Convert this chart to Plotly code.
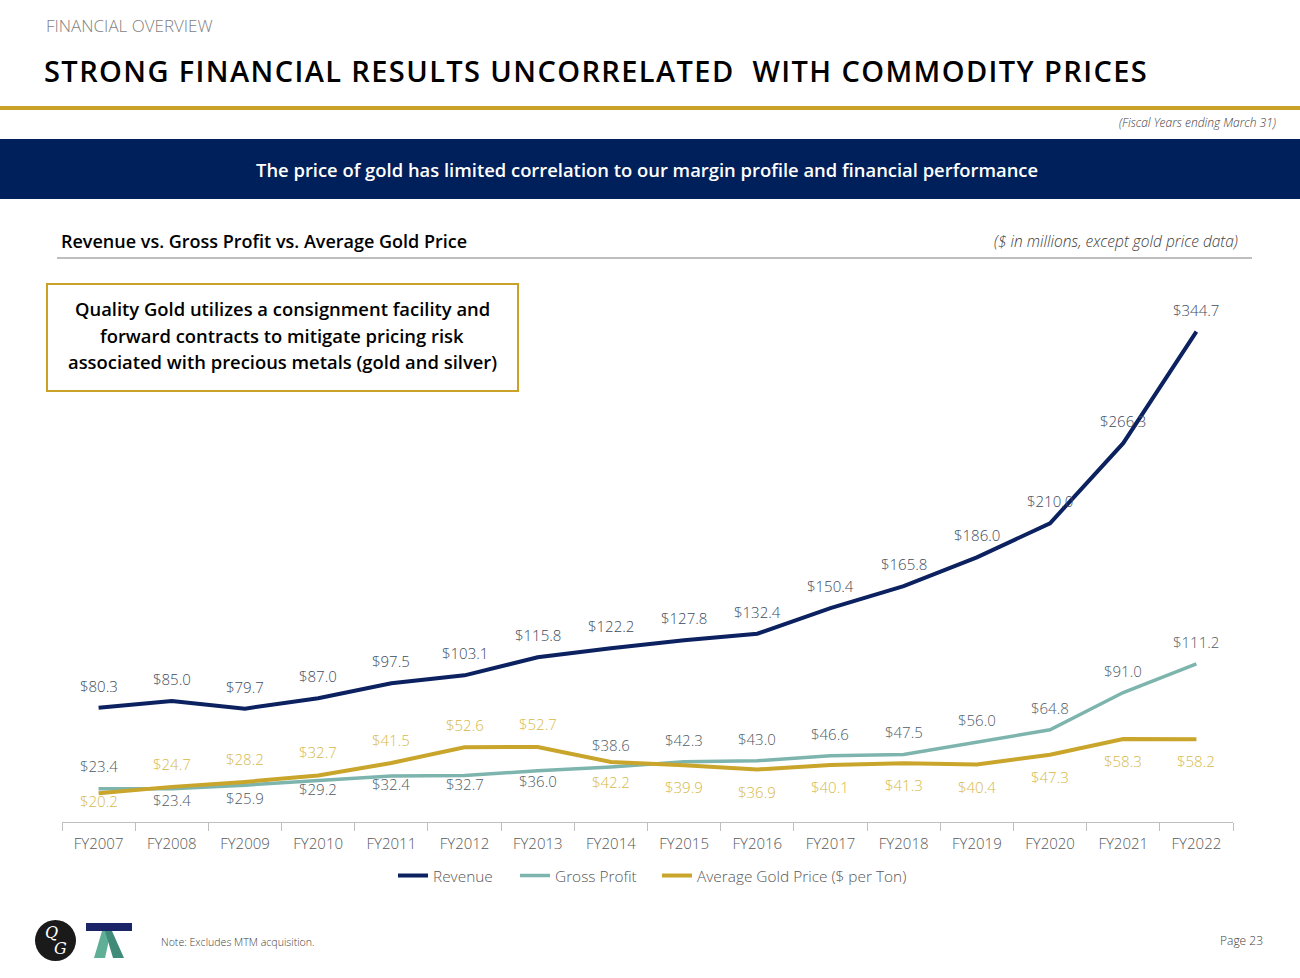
import plotly.graph_objects as go

# ---------------- data ----------------
years = ["FY2007", "FY2008", "FY2009", "FY2010", "FY2011", "FY2012", "FY2013", "FY2014",
         "FY2015", "FY2016", "FY2017", "FY2018", "FY2019", "FY2020", "FY2021", "FY2022"]
revenue = [80.3, 85.0, 79.7, 87.0, 97.5, 103.1, 115.8, 122.2,
           127.8, 132.4, 150.4, 165.8, 186.0, 210.0, 266.3, 344.7]
gross_profit = [23.4, 23.4, 25.9, 29.2, 32.4, 32.7, 36.0, 38.6,
                42.3, 43.0, 46.6, 47.5, 56.0, 64.8, 91.0, 111.2]
gold_price = [20.2, 24.7, 28.2, 32.7, 41.5, 52.6, 52.7, 42.2,
              39.9, 36.9, 40.1, 41.3, 40.4, 47.3, 58.3, 58.2]

box_lines = ["Quality Gold utilizes a consignment facility and",
             "forward contracts to mitigate pricing risk",
             "associated with precious metals (gold and silver)"]

# label placement (style, not data): vertical pixel shift of each label
rev_shift = [22] * 16
gp_shift = [23, -11, -13, -9, -8, -9, -10, 22, 22, 22, 22, 22, 22, 22, 22, 22]
gold_shift = [-8, 23, 23, 23, 23, 22, 23, -20, -22, -22, -22, -22, -22, -22, -22, -22]

# ---------------- styles ----------------
W, H = 1300, 978
NAVY = "#0b2160"
BANNER = "#00205b"
TEAL = "#7db5ae"
GOLD = "#c9a52b"
RULE_GOLD = "#c9a227"
REV_LBL = "#3e4a5c"
GP_LBL = "#4f5b66"
GOLD_LBL = "#d6b94a"
FONT = "Open Sans"


def X(px):
    return px / W


def Y(py):
    return 1 - py / H


fig = go.Figure()

fig.add_trace(go.Scatter(x=years, y=revenue, mode="lines", name="Revenue", legend="legend",
                         line=dict(color=NAVY, width=4), hoverinfo="skip"))
fig.add_trace(go.Scatter(x=years, y=gross_profit, mode="lines", name="Gross Profit", legend="legend2",
                         line=dict(color=TEAL, width=3.5), hoverinfo="skip"))
fig.add_trace(go.Scatter(x=years, y=gold_price, mode="lines", name="Average Gold Price ($ per Ton)",
                         legend="legend3", line=dict(color=GOLD, width=4), hoverinfo="skip"))

annotations = []
label_font = dict(family=FONT, size=15, weight=300)
for series, shifts, col in ((revenue, rev_shift, REV_LBL),
                            (gross_profit, gp_shift, GP_LBL),
                            (gold_price, gold_shift, GOLD_LBL)):
    for yr, v, s in zip(years, series, shifts):
        annotations.append(dict(x=yr, y=v, xref="x", yref="y", text=f"${v:.1f}",
                                showarrow=False, yshift=s, xanchor="center", yanchor="middle",
                                font=dict(label_font, color=col)))

# ---------------- slide text ----------------
annotations += [
    dict(x=X(44), y=Y(25), xref="paper", yref="paper", text="FINANCIAL OVERVIEW",
         showarrow=False, xanchor="left", yanchor="middle",
         font=dict(family=FONT, size=17, color="#7f7f7f", weight=300)),
    # x compensates for the letter-spacing applied after render (text grows around its centre)
    dict(x=X(84), y=Y(71), xref="paper", yref="paper",
         text="STRONG FINANCIAL RESULTS UNCORRELATED&nbsp; WITH COMMODITY PRICES",
         showarrow=False, xanchor="left", yanchor="middle", name="title",
         font=dict(family=FONT, size=29, color="#000000", weight=600)),
    dict(x=X(1278), y=Y(123), xref="paper", yref="paper", text="<i>(Fiscal Years ending March 31)</i>",
         showarrow=False, xanchor="right", yanchor="middle",
         font=dict(family=FONT, size=12, color="#404040", weight=300)),
    dict(x=X(647), y=Y(169), xref="paper", yref="paper",
         text="The price of gold has limited correlation to our margin profile and financial performance",
         showarrow=False, xanchor="center", yanchor="middle",
         font=dict(family=FONT, size=18.4, color="#ffffff", weight=600)),
    dict(x=X(59), y=Y(241), xref="paper", yref="paper",
         text="Revenue vs. Gross Profit vs. Average Gold Price",
         showarrow=False, xanchor="left", yanchor="middle",
         font=dict(family=FONT, size=18, color="#000000", weight=600)),
    dict(x=X(1240), y=Y(241), xref="paper", yref="paper",
         text="<i>($ in millions, except gold price data)</i>",
         showarrow=False, xanchor="right", yanchor="middle",
         font=dict(family=FONT, size=15.5, color="#404040", weight=300)),
    dict(x=X(159), y=Y(942), xref="paper", yref="paper", text="Note: Excludes MTM acquisition.",
         showarrow=False, xanchor="left", yanchor="middle",
         font=dict(family=FONT, size=10.6, color="#404040", weight=300)),
    dict(x=X(1265), y=Y(940), xref="paper", yref="paper", text="Page 23",
         showarrow=False, xanchor="right", yanchor="middle",
         font=dict(family=FONT, size=12, color="#404040", weight=300)),
    # QG monogram
    dict(x=X(51), y=Y(932), xref="paper", yref="paper", text="<i>Q</i>",
         showarrow=False, xanchor="center", yanchor="middle",
         font=dict(family="DejaVu Serif", size=16, color="#ffffff")),
    dict(x=X(60), y=Y(948), xref="paper", yref="paper", text="<i>G</i>",
         showarrow=False, xanchor="center", yanchor="middle",
         font=dict(family="DejaVu Serif", size=16, color="#ffffff")),
]
for i, line in enumerate(box_lines):
    annotations.append(dict(x=X(282), y=Y(309 + 26 * i), xref="paper", yref="paper", text=line,
                            showarrow=False, xanchor="center", yanchor="middle",
                            font=dict(family=FONT, size=18.4, color="#000000", weight=600)))

shapes = [
    dict(type="rect", xref="paper", yref="paper", x0=X(0), x1=X(1300), y0=Y(106), y1=Y(110),
         fillcolor=RULE_GOLD, line=dict(width=0), layer="below"),
    dict(type="rect", xref="paper", yref="paper", x0=X(0), x1=X(1300), y0=Y(139), y1=Y(199),
         fillcolor=BANNER, line=dict(width=0), layer="below"),
    dict(type="line", xref="paper", yref="paper", x0=X(57), x1=X(1252), y0=Y(258), y1=Y(258),
         line=dict(color="#7f7f7f", width=1)),
    dict(type="rect", xref="paper", yref="paper", x0=X(47), x1=X(518), y0=Y(284), y1=Y(391),
         fillcolor="rgba(255,255,255,0)", line=dict(color=RULE_GOLD, width=2)),
    dict(type="circle", xref="paper", yref="paper", x0=X(35), x1=X(76), y0=Y(920), y1=Y(961),
         fillcolor="#1a1a1a", line=dict(width=0), layer="below"),
    dict(type="rect", xref="paper", yref="paper", x0=X(86), x1=X(132), y0=Y(923), y1=Y(931),
         fillcolor="#1b2466", line=dict(width=0)),
    dict(type="path", xref="paper", yref="paper",
         path=f"M {X(102)} {Y(931)} L {X(111)} {Y(931)} L {X(105)} {Y(958)} L {X(94)} {Y(958)} Z",
         fillcolor="#5fae96", line=dict(width=0)),
    dict(type="path", xref="paper", yref="paper",
         path=f"M {X(105)} {Y(931)} L {X(112)} {Y(931)} L {X(124)} {Y(958)} L {X(113)} {Y(958)} Z",
         fillcolor="#3f8a78", line=dict(width=0)),
]

legend_common = dict(orientation="h", xanchor="left", yanchor="middle", y=Y(876),
                     font=dict(family=FONT, size=15.4, color="#595959", weight=300),
                     bgcolor="rgba(0,0,0,0)", itemwidth=30)

fig.update_layout(
    width=W, height=H, autosize=False,
    margin=dict(l=0, r=0, t=0, b=0),
    paper_bgcolor="#ffffff", plot_bgcolor="rgba(0,0,0,0)",
    font=dict(family=FONT, color="#595959"),
    showlegend=True,
    legend=dict(legend_common, x=X(393)),
    legend2=dict(legend_common, x=X(515)),
    legend3=dict(legend_common, x=X(657)),
    xaxis=dict(domain=[X(62), X(1233)], type="category", range=[-0.5, 15.5],
               showgrid=False, zeroline=False,
               showline=True, linecolor="#bfbfbf", linewidth=1,
               ticks="outside", tickson="boundaries", ticklen=8, tickcolor="#bfbfbf",
               ticklabelstandoff=8,
               tickfont=dict(family=FONT, size=15, color="#595959", weight=300),
               automargin=False, fixedrange=True),
    yaxis=dict(domain=[Y(822), Y(290)], range=[0, 374], visible=False, showgrid=False,
               zeroline=False, fixedrange=True),
    annotations=annotations,
    shapes=shapes,
)

post = """
function qgSpace(){
  document.body.style.margin='0';
  document.body.style.overflow='hidden';
  document.querySelectorAll('.annotation-text').forEach(function(t){
    if (t.textContent.indexOf('STRONG FINANCIAL') === 0) {
      t.setAttribute('letter-spacing','1.4px');
    }
  });
}
qgSpace();
setTimeout(qgSpace, 50);
setTimeout(qgSpace, 400);
"""

fig.write_html("out.html", config={"displayModeBar": False}, post_script=post)
